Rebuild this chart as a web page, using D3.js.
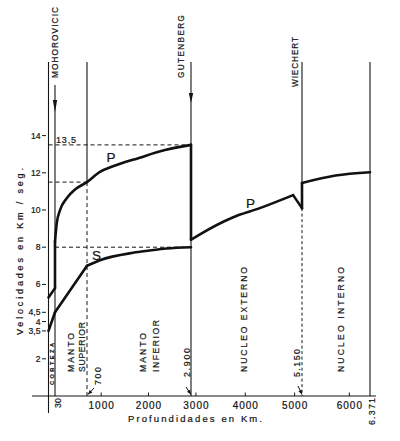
<!DOCTYPE html>
<html>
<head>
<meta charset="utf-8">
<script src="https://cdn.jsdelivr.net/npm/d3@7"></script>
<style>
  body { margin: 0; background: #fff; }
  svg { display: block; }
  text { font-family: "Liberation Sans", Arial, sans-serif; fill: #151515; stroke: #151515; stroke-width: 0.22px; }
</style>
</head>
<body>
<svg id="chart" width="400" height="441"></svg>
<script>
// ---------------- data ----------------
const layerBounds   = [0, 30, 700, 2900, 5150, 6371];          // km
const boundaryLabels = ["30", "700", "2.900", "5.150", "6.371"];
const discontinuities = ["MOHOROVICIC", "GUTENBERG", "WIECHERT"];
const xTickValues = [1000, 2000, 3000, 4000, 5000, 6000];
const yTickValues = [2, 3.5, 4, 4.5, 6, 8, 10, 12, 14];
const yTickLabels = ["2", "3,5", "4", "4,5", "6", "8", "10", "12", "14"];

// P wave velocity (km/s) vs depth (km)
const pDepth = [0, 30, 30, 66, 135, 275, 449, 700, 974, 1250, 1800, 2350, 2900, 2900, 3073, 3745, 4295, 4970, 5150, 5150, 5750, 6371];
const pVel   = [5.3, 5.8, 8.3, 9.28, 9.99, 10.63, 11.1, 11.5, 12.05, 12.35, 12.8, 13.22, 13.5, 8.4, 8.68, 9.6, 10.1, 10.8, 10.1, 11.45, 11.85, 12.03];
const pCorners = [];
// S wave velocity
const sDepth = [0, 30, 700, 974, 1675, 2026, 2378, 2900];
const sVel   = [3.5, 4.5, 7.0, 7.3, 7.7, 7.82, 7.93, 8.0];
const sCorners = [30, 700];

// ---------------- scales ----------------
const svg = d3.select("#chart");
const x = d3.scaleLinear().domain(layerBounds).range([48.5, 55, 87, 191, 302, 370]);
const y = d3.scaleLinear().domain([0, 14]).range([396, 135.6]);
const yTop = 62, yBase = y(0);
const ink = "#151515";

function vtext(str, cx, yBottom, len, size, weight) {
  return svg.append("text")
    .attr("transform", `translate(${cx},${yBottom}) rotate(-90)`)
    .attr("text-anchor", "start")
    .attr("dy", "0.36em")
    .attr("font-size", size)
    .attr("font-weight", weight || "normal")
    .attr("textLength", len)
    .attr("lengthAdjust", "spacing")
    .text(str);
}

// ---------------- axes ----------------
svg.append("line").attr("x1", 32).attr("x2", 376).attr("y1", yBase).attr("y2", yBase)
  .attr("stroke", ink).attr("stroke-width", 1.2);
svg.append("line").attr("x1", x(0)).attr("x2", x(0)).attr("y1", yTop).attr("y2", 413)
  .attr("stroke", ink).attr("stroke-width", 1.1);

svg.selectAll(".xt").data(xTickValues).join("line")
  .attr("x1", d => x(d)).attr("x2", d => x(d)).attr("y1", yBase - 3.5).attr("y2", yBase)
  .attr("stroke", ink).attr("stroke-width", 1);
svg.selectAll(".xl").data(xTickValues).join("text")
  .attr("x", d => x(d) + 0.5).attr("y", 408.5)
  .attr("text-anchor", "middle").attr("font-size", 10).attr("letter-spacing", "1px")
  .text(d => d);

svg.selectAll(".yt").data(yTickValues).join("line")
  .attr("x1", 42).attr("x2", 46).attr("y1", d => y(d)).attr("y2", d => y(d))
  .attr("stroke", ink).attr("stroke-width", 1);
svg.selectAll(".yl").data(yTickValues).join("text")
  .attr("x", 40.5).attr("y", d => y(d)).attr("dy", "0.36em")
  .attr("text-anchor", "end").attr("font-size", 8.6)
  .text((d, i) => yTickLabels[i]);

vtext("Velocidades  en  Km / seg.", 20, 335, 167, 9);
svg.append("text").attr("x", 128).attr("y", 421.5).attr("font-size", 9.5)
  .attr("textLength", 134).attr("lengthAdjust", "spacing")
  .text("Profundidades  en  Km.");

// ---------------- boundary lines ----------------
const P = pDepth.map((d, i) => [d, pVel[i]]);
const S = sDepth.map((d, i) => [d, sVel[i]]);
const pAt = d => pVel[pDepth.indexOf(d)];

svg.append("line").attr("x1", x(30)).attr("x2", x(30)).attr("y1", 85).attr("y2", yBase)
  .attr("stroke", ink).attr("stroke-width", 1.1);
svg.append("line").attr("x1", x(700)).attr("x2", x(700)).attr("y1", yTop).attr("y2", y(pAt(700)))
  .attr("stroke", ink).attr("stroke-width", 1.1);
svg.append("line").attr("x1", x(700)).attr("x2", x(700)).attr("y1", y(pAt(700))).attr("y2", yBase)
  .attr("stroke", ink).attr("stroke-width", 1).attr("stroke-dasharray", "4,3");
svg.append("line").attr("x1", x(2900)).attr("x2", x(2900)).attr("y1", yTop).attr("y2", yBase)
  .attr("stroke", ink).attr("stroke-width", 1.1);
svg.append("line").attr("x1", x(5150)).attr("x2", x(5150)).attr("y1", yTop).attr("y2", y(pAt(5150)))
  .attr("stroke", ink).attr("stroke-width", 1.1);
svg.append("line").attr("x1", x(5150)).attr("x2", x(5150)).attr("y1", y(pAt(5150))).attr("y2", yBase)
  .attr("stroke", ink).attr("stroke-width", 1).attr("stroke-dasharray", "3,2.5");
svg.append("line").attr("x1", x(6371)).attr("x2", x(6371)).attr("y1", yTop).attr("y2", yBase)
  .attr("stroke", ink).attr("stroke-width", 1.1);

function arrowDown(cx, tipY, len, half) {
  svg.append("path").attr("d", `M${cx - half},${tipY - len}L${cx + half},${tipY - len}L${cx},${tipY}Z`)
    .attr("fill", ink);
}
arrowDown(x(30), 112, 12, 2.2);
arrowDown(x(2900), 103, 10, 2.2);

vtext(discontinuities[0], x(30), 78, 71, 8.2);
vtext(discontinuities[1], x(2900) - 10, 78, 63, 8.2);
vtext(discontinuities[2], x(5150) - 7, 87, 50, 8.2);

// ---------------- reference dashed lines ----------------
const refs = [
  { v: pAt(2900), from: 0,  to: 2900 },
  { v: pAt(700),  from: 0,  to: 700 },
  { v: sVel[sVel.length - 1], from: 30, to: 2900 }
];
svg.selectAll(".ref").data(refs).join("line")
  .attr("x1", d => x(d.from)).attr("x2", d => x(d.to))
  .attr("y1", d => y(d.v)).attr("y2", d => y(d.v))
  .attr("stroke", ink).attr("stroke-width", 1).attr("stroke-dasharray", "4,3");
svg.append("text").attr("x", 56).attr("y", 142.5).attr("font-size", 9)
  .attr("textLength", 20).attr("lengthAdjust", "spacing").text("13,5");

// ---------------- velocity curves ----------------
function drawWave(pts, corners) {
  const runs = [], jumps = [];
  let cur = [pts[0]];
  for (let i = 1; i < pts.length; i++) {
    const p = pts[i], q = pts[i - 1];
    if (p[0] === q[0]) { jumps.push([q, p]); runs.push(cur); cur = [p]; continue; }
    cur.push(p);
    const nx = pts[i + 1];
    if (!nx) break;
    if (nx[0] === p[0]) continue;
    const extremum = Math.sign(p[1] - q[1]) !== Math.sign(nx[1] - p[1]);
    if (corners.includes(p[0]) || extremum) { runs.push(cur); cur = [p]; }
  }
  runs.push(cur);
  const smooth = d3.line().x(d => x(d[0])).y(d => y(d[1])).curve(d3.curveMonotoneX);
  const straight = d3.line().x(d => x(d[0])).y(d => y(d[1]));
  const g = svg.append("g").attr("fill", "none").attr("stroke", "#111")
    .attr("stroke-width", 2.6).attr("stroke-linejoin", "round").attr("stroke-linecap", "round");
  runs.filter(r => r.length > 1).forEach(r => g.append("path").attr("d", smooth(r)));
  jumps.forEach(j => g.append("path").attr("d", straight(j)));
}
drawWave(P, pCorners);
drawWave(S, sCorners);

svg.append("text").attr("x", 106.5).attr("y", 162).attr("font-size", 13.5).text("P");
svg.append("text").attr("x", 92).attr("y", 259.5).attr("font-size", 13.5).text("S");
svg.append("text").attr("x", 246).attr("y", 207.5).attr("font-size", 13.5).text("P");

// ---------------- layer labels ----------------
vtext("CORTEZA", (x(0) + x(30)) / 2 + 0.3, 385, 42, 5.6, "bold");
vtext("MANTO", 71, 372, 39, 8.6);
vtext("SUPERIOR", 81.5, 372, 50, 8.6);
vtext("MANTO", 143.3, 372, 39, 8.6);
vtext("INFERIOR", 156, 372, 52, 8.6);
vtext("NUCLEO  EXTERNO", 244, 372, 105, 8.6);
vtext("NUCLEO  INTERNO", 340.5, 372, 105, 8.6);

vtext(boundaryLabels[0], 58, 408, 10, 8.8);
vtext(boundaryLabels[1], 98, 385, 18, 8.8);
vtext(boundaryLabels[2], 187, 377, 29, 8.8);
vtext(boundaryLabels[3], 297, 377, 28, 8.8);
vtext(boundaryLabels[4], 372, 425, 27, 8.8);

function pointer(tx, ty, fromX, fromY) {
  svg.append("line").attr("x1", fromX).attr("y1", fromY).attr("x2", tx).attr("y2", ty)
    .attr("stroke", ink).attr("stroke-width", 1);
  const a = Math.atan2(ty - fromY, tx - fromX), L = 4.5, w = 1.8;
  const bx = tx - L * Math.cos(a), by = ty - L * Math.sin(a);
  const nx = -Math.sin(a) * w, ny = Math.cos(a) * w;
  svg.append("path").attr("d", `M${tx},${ty}L${bx + nx},${by + ny}L${bx - nx},${by - ny}Z`).attr("fill", ink);
}
pointer(x(700) + 1, yBase - 1.5, x(700) + 7, yBase - 8);
pointer(x(2900), yBase - 1.5, x(2900) - 5, yBase - 9);
pointer(x(5150), yBase - 1.5, x(5150) - 4, yBase - 10);
</script>
</body>
</html>
